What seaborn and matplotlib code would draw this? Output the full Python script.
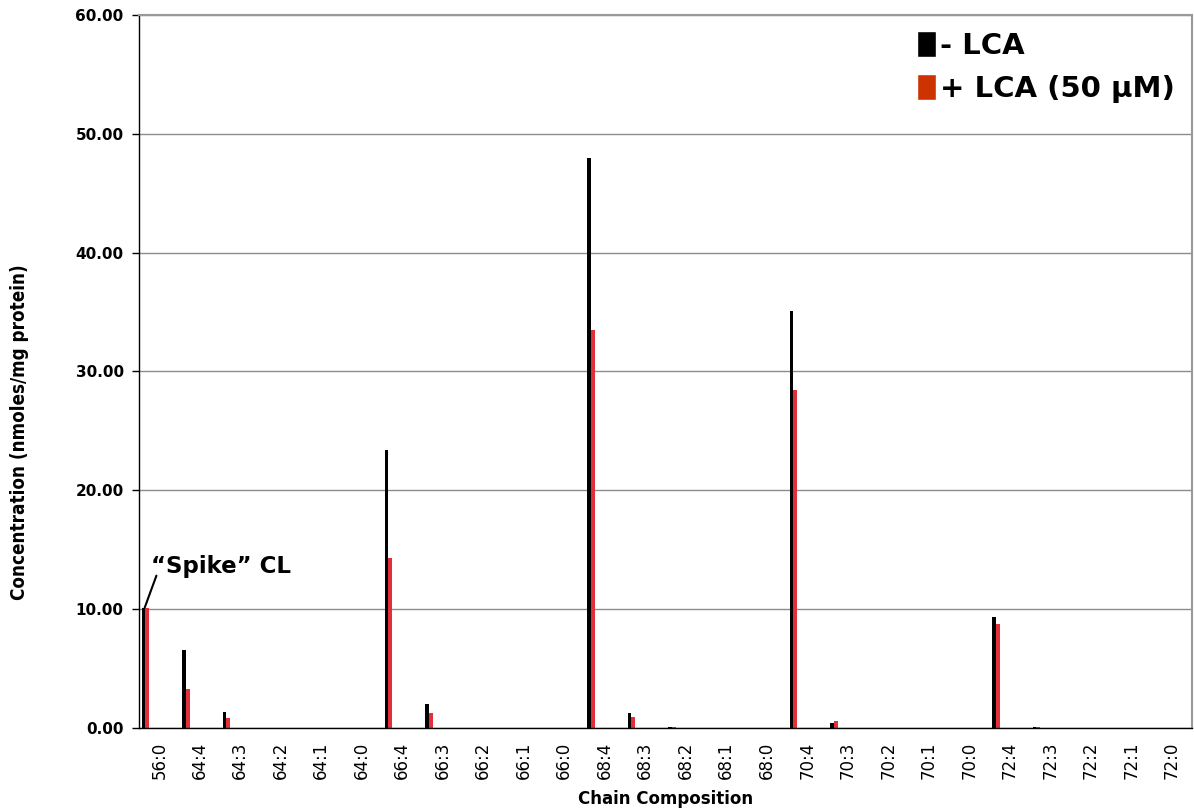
import matplotlib
matplotlib.use("Agg")
import matplotlib.pyplot as plt
from matplotlib.patches import Patch
import seaborn as sns
import pandas as pd
import numpy as np

categories = ["56:0", "64:4", "64:3", "64:2", "64:1", "64:0",
              "66:4", "66:3", "66:2", "66:1", "66:0",
              "68:4", "68:3", "68:2", "68:1", "68:0",
              "70:4", "70:3", "70:2", "70:1", "70:0",
              "72:4", "72:3", "72:2", "72:1", "72:0"]
minus_lca = [10.05, 6.55, 1.35, 0, 0, 0,
             23.4, 2.0, 0, 0, 0,
             48.0, 1.2, 0.05, 0, 0,
             35.05, 0.37, 0, 0, 0,
             9.35, 0.06, 0, 0, 0]
plus_lca = [10.1, 3.3, 0.8, 0, 0, 0,
            14.3, 1.24, 0, 0, 0,
            33.5, 0.9, 0.1, 0, 0,
            28.4, 0.6, 0, 0, 0,
            8.75, 0.1, 0, 0, 0]
series_names = ["- LCA", "+ LCA (50 \u00b5M)"]
yticks = [0, 10, 20, 30, 40, 50, 60]

df = pd.DataFrame({
    "cat": categories * 2,
    "val": minus_lca + plus_lca,
    "series": [series_names[0]] * len(categories) + [series_names[1]] * len(categories),
})

sns.set_style("white")
plt.rcParams['font.family'] = ['DejaVu Sans']
plt.rcParams['text.color'] = 'black'
plt.rcParams['axes.labelcolor'] = 'black'
plt.rcParams['xtick.color'] = 'black'
plt.rcParams['ytick.color'] = 'black'

fig = plt.figure(figsize=(11.94, 8.09), dpi=100)
ax = fig.add_axes([139 / 1194, 1 - 727.7 / 809, (1192 - 139) / 1194, (727.7 - 15) / 809])

bar_colors = ["#000000", "#E2303A"]
sns.barplot(data=df, x="cat", y="val", hue="series", order=categories,
            palette=bar_colors, ax=ax, legend=False, saturation=1, linewidth=0)

# reposition bars to the left part of each category (as in the original)
offsets = [(-0.433, 0.088), (-0.345, 0.1)]
for cont, (off, w) in zip(ax.containers, offsets):
    for i, p in enumerate(cont.patches):
        p.set_x(i + off)
        p.set_width(w)

ax.set_xlim(-0.5, len(categories) - 0.5)
ax.set_ylim(0, 60)
ax.set_yticks(yticks)
ax.set_yticklabels([f"{v:.2f}" for v in yticks], fontsize=11, fontweight="bold")
ax.yaxis.grid(True, color="#8c8c8c", linewidth=1)
ax.set_axisbelow(True)

ax.set_xticks(range(len(categories)))
ax.set_xticklabels(categories, rotation=90, fontsize=12)
ax.set_xticks(np.arange(-0.5, len(categories), 1), minor=True)
ax.tick_params(axis="x", which="major", length=0, pad=10)
ax.tick_params(axis="x", which="minor", length=6, width=1, color="black", direction="out")
ax.tick_params(axis="y", length=5, width=1, color="black", direction="out", left=True, pad=6)

for s in ["left", "bottom"]:
    ax.spines[s].set_color("black")
    ax.spines[s].set_linewidth(1)
for s in ["top", "right"]:
    ax.spines[s].set_visible(True)
    ax.spines[s].set_color("#999999")
    ax.spines[s].set_linewidth(1.5)

ax.set_xlabel("Chain Composition", fontsize=12, fontweight="bold", labelpad=8)
ax.set_ylabel("Concentration (nmoles/mg protein)", fontsize=13.5, fontweight="bold",
              fontstretch="condensed")
ax.yaxis.set_label_coords(-0.104, 0.415)

handles = [Patch(facecolor="#000000"), Patch(facecolor="#CC3300")]
leg = ax.legend(handles, series_names, loc="upper right", frameon=False,
                prop={"size": 21, "weight": "bold"}, handlelength=0.65, handleheight=1.0,
                handletextpad=0.15, labelspacing=0.5, borderaxespad=0, borderpad=0,
                bbox_to_anchor=(0.984, 0.978))
for t in leg.get_texts():
    t.set_color("black")

ax.text(-0.2, 13.05, "\u201cSpike\u201d CL", fontsize=16.5, fontweight="bold", ha="left", va="baseline")
ax.annotate("", xy=(-0.36, 10.1), xytext=(-0.07, 12.8),
            arrowprops=dict(arrowstyle="-", lw=1.5, color="black", shrinkA=0, shrinkB=0))

fig.savefig("out.png", dpi=100)
